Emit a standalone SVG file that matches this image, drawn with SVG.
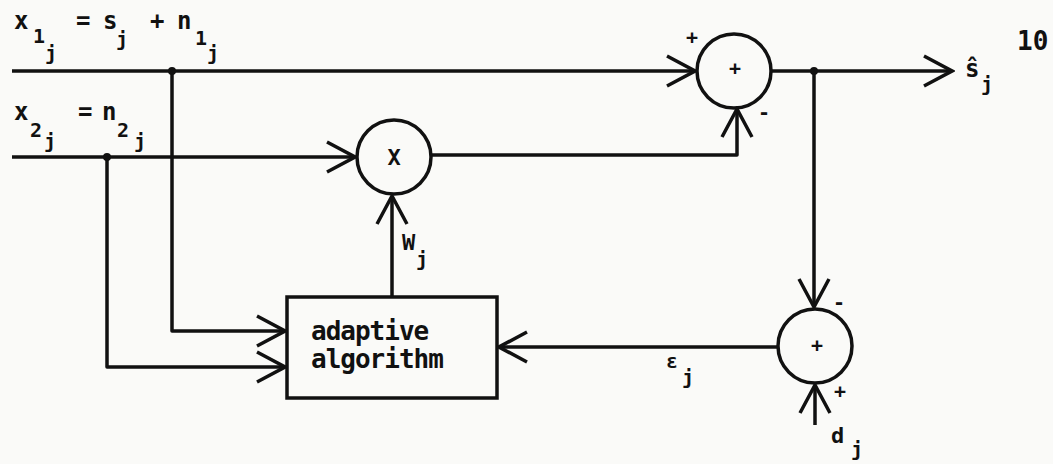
<svg xmlns="http://www.w3.org/2000/svg" width="1053" height="464" viewBox="0 0 1053 464">
<style>
.ln{fill:none;stroke:#111;stroke-width:3.5;stroke-linejoin:round}
.nd{fill:none;stroke:#111;stroke-width:3.5}
.t{font-family:"DejaVu Sans Mono","Liberation Mono",monospace;fill:#111;font-weight:bold}
.m{font-size:24px}
.s{font-size:20px}
.sym{font-size:20px;text-anchor:middle;dominant-baseline:central}
.bx{font-size:26px;letter-spacing:-1px}
</style>
<defs>
<marker id="ah" markerUnits="userSpaceOnUse" markerWidth="34" markerHeight="36" viewBox="-31 -18 34 36" refX="0" refY="0" orient="auto">
<path d="M-28,-15 L0,0 L-28,15" fill="none" stroke="#111" stroke-width="3.5" stroke-linejoin="miter"/>
</marker>
</defs>
<rect width="1053" height="464" fill="#fafaf8"/>

<g id="connectors">
<path class="ln" d="M12,71 H695" marker-end="url(#ah)"/>
<path class="ln" d="M12,157 H355" marker-end="url(#ah)"/>
<path class="ln" d="M431,155 H737 V109" marker-end="url(#ah)"/>
<path class="ln" d="M771,71 H952" marker-end="url(#ah)"/>
<path class="ln" d="M814,71 V307" marker-end="url(#ah)"/>
<path class="ln" d="M815,425 V385" marker-end="url(#ah)"/>
<path class="ln" d="M777,347 H499" marker-end="url(#ah)"/>
<path class="ln" d="M392,297 V196" marker-end="url(#ah)"/>
<path class="ln" d="M172,71 V331 H285" marker-end="url(#ah)"/>
<path class="ln" d="M107,157 V367 H285" marker-end="url(#ah)"/>
<circle cx="172" cy="71" r="4" fill="#111"/>
<circle cx="107" cy="157" r="4" fill="#111"/>
<circle cx="814" cy="71" r="4" fill="#111"/>
</g>

<g id="label-x1">
<text class="t m" x="14" y="29">x</text>
<text class="t s" x="33" y="43">1</text>
<text class="t s" x="45" y="60">j</text>
<text class="t m" x="76" y="29">=</text>
<text class="t m" x="103" y="29">s</text>
<text class="t s" x="116" y="46">j</text>
<text class="t m" x="150" y="29">+</text>
<text class="t m" x="177" y="29">n</text>
<text class="t s" x="195" y="45">1</text>
<text class="t s" x="207" y="60">j</text>
</g>

<g id="label-x2">
<text class="t m" x="14" y="120">x</text>
<text class="t s" x="30" y="137">2</text>
<text class="t s" x="44" y="148">j</text>
<text class="t m" x="78" y="120">=</text>
<text class="t m" x="102" y="120">n</text>
<text class="t s" x="117" y="137">2</text>
<text class="t s" x="134" y="148">j</text>
</g>

<g id="multiplier">
<circle class="nd" cx="394" cy="157" r="37"/>
<text class="t" x="394" y="165" font-size="22" text-anchor="middle">X</text>
<text class="t" x="402" y="250" font-size="22">W</text>
<text class="t s" x="416" y="266">j</text>
</g>

<g id="sum1">
<circle class="nd" cx="734" cy="71" r="37"/>
<text class="t sym" x="735" y="68">+</text>
<text class="t sym" x="692" y="37">+</text>
<text class="t sym" x="764" y="112">-</text>
</g>

<g id="output">
<text class="t m" x="965" y="77">ŝ</text>
<text class="t s" x="981" y="91">j</text>
</g>

<g id="page-number">
<text class="t" x="1017" y="50" font-size="26">10</text>
</g>

<g id="sum2">
<circle class="nd" cx="815" cy="346" r="37"/>
<text class="t sym" x="817" y="345">+</text>
<text class="t sym" x="839" y="302">-</text>
<text class="t sym" x="840" y="391">+</text>
<text class="t" x="831" y="443" font-size="22">d</text>
<text class="t s" x="851" y="456">j</text>
</g>

<g id="error">
<text class="t" x="666" y="368" font-size="20">ε</text>
<text class="t s" x="682" y="384">j</text>
</g>

<g id="adaptive-algorithm">
<rect class="nd" x="287" y="297" width="210" height="101"/>
<text class="t bx" x="311" y="340">adaptive</text>
<text class="t bx" x="311" y="368">algorithm</text>
</g>
</svg>
